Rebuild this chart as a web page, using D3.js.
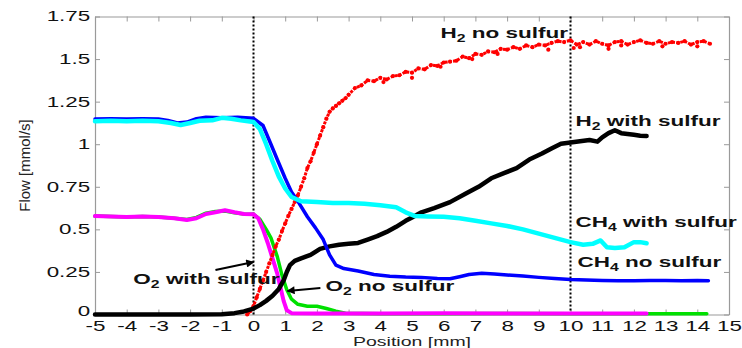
<!DOCTYPE html>
<html><head><meta charset="utf-8">
<script src="https://cdn.jsdelivr.net/npm/d3@7"></script>
<style>body{margin:0;background:#fff}svg{display:block}text{font-family:"Liberation Sans",Arial,sans-serif}</style>
</head><body><svg id="c" width="742" height="348"></svg>
<script>
// ---- tick labels ----
const xTickValues = [-5,-4,-3,-2,-1,0,1,2,3,4,5,6,7,8,9,10,11,12,13,14,15];
const yTickValues = [0,0.25,0.5,0.75,1,1.25,1.5,1.75];
const yTickLabels = ["0","0.25","0.5","0.75","1","1.25","1.5","1.75"];
const xLabel = "Position [mm]";
const yLabel = "Flow [mmol/s]";
const markerLines = [0, 10];

// ---- series (position mm, flow mmol/s) ----
const ch4NoSulfurX = [-5,-4.5,-4,-3.5,-3,-2.7,-2.4,-2.1,-1.8,-1.5,-1,-0.5,0,0.3,0.55,0.75,1.0,1.2,1.45,1.7,1.95,2.2,2.4,2.6,2.85,3.3,3.8,4.3,4.8,5.3,5.8,6.2,6.5,6.8,7.2,7.6,8.0,8.5,9.0,9.5,10,10.5,11,11.5,12,12.5,13,13.5,14,14.35];
const ch4NoSulfurY = [1.148,1.15,1.148,1.15,1.148,1.14,1.125,1.13,1.15,1.158,1.155,1.158,1.152,1.11,1.0,0.91,0.8,0.72,0.65,0.574,0.51,0.44,0.35,0.29,0.27,0.255,0.235,0.225,0.22,0.218,0.212,0.21,0.222,0.235,0.242,0.238,0.232,0.226,0.218,0.212,0.205,0.202,0.2,0.198,0.198,0.2,0.2,0.198,0.2,0.198];

const ch4SulfurX = [-5,-4.5,-4,-3.5,-3,-2.6,-2.3,-2.0,-1.7,-1.3,-1,-0.7,-0.4,0,0.2,0.4,0.6,0.8,1.0,1.2,1.5,2.0,2.5,3.0,3.5,4.0,4.5,4.8,5.1,5.5,6.0,6.5,7.0,7.5,8.0,8.5,9.0,9.5,10.0,10.4,10.7,10.95,11.15,11.4,11.7,12.0,12.2,12.4];
const ch4SulfurY = [1.135,1.138,1.135,1.138,1.135,1.125,1.113,1.125,1.138,1.14,1.155,1.15,1.14,1.13,1.09,1.0,0.9,0.81,0.74,0.69,0.665,0.66,0.655,0.655,0.65,0.642,0.63,0.6,0.578,0.576,0.574,0.565,0.55,0.535,0.52,0.5,0.475,0.45,0.425,0.41,0.415,0.435,0.395,0.39,0.395,0.425,0.425,0.418];

const h2NoSulfurX = [-0.2,-0.1,0,0.1,0.2,0.3,0.4,0.5,0.6,0.7,0.8,0.9,1.0,1.1,1.2,1.3,1.4,1.5,1.6,1.7,1.8,1.9,2.0,2.1,2.2,2.3,2.4,2.5,2.6,2.7,2.8,2.9,3.0,3.2,3.4,3.6,3.8,4.0,4.2,4.4,4.6,4.8,5.0,5.2,5.4,5.6,5.8,6.0,6.2,6.4,6.6,6.8,7.0,7.2,7.4,7.6,7.8,8.0,8.2,8.4,8.6,8.8,9.0,9.2,9.4,9.6,9.8,10.0,10.2,10.4,10.6,10.8,11.0,11.2,11.4,11.6,11.8,12.0,12.2,12.4,12.6,12.8,13.0,13.2,13.4,13.6,13.8,14.0,14.2,14.4];
const h2NoSulfurY = [0.0,0.02,0.05,0.1,0.15,0.2,0.25,0.3,0.35,0.4,0.44,0.49,0.535,0.58,0.62,0.66,0.7,0.75,0.8,0.86,0.9,0.95,1.0,1.05,1.1,1.15,1.19,1.21,1.225,1.24,1.255,1.27,1.29,1.33,1.345,1.375,1.37,1.39,1.38,1.4,1.405,1.425,1.42,1.445,1.44,1.465,1.46,1.48,1.485,1.49,1.515,1.505,1.53,1.525,1.545,1.54,1.56,1.555,1.57,1.56,1.58,1.57,1.585,1.58,1.595,1.605,1.6,1.61,1.585,1.6,1.585,1.605,1.59,1.58,1.6,1.605,1.585,1.6,1.61,1.595,1.59,1.605,1.59,1.6,1.595,1.605,1.585,1.6,1.605,1.59];
const h2NoSulfurStrayX = [4.1,5.0,5.9,6.9,7.7,9.3,10.1,10.3,11.2,11.6,12.9,14.0];
const h2NoSulfurStrayY = [1.365,1.39,1.455,1.5,1.53,1.555,1.565,1.57,1.56,1.58,1.575,1.575];

const h2SulfurX = [-5,-4,-3,-2,-1,-0.6,-0.3,0,0.2,0.4,0.6,0.8,0.95,1.05,1.15,1.3,1.5,1.8,2.1,2.4,2.7,3.0,3.3,3.6,3.9,4.2,4.5,4.8,5.0,5.3,5.7,6.2,6.7,7.1,7.5,7.9,8.3,8.7,9.1,9.4,9.7,10.0,10.3,10.6,10.85,11.0,11.2,11.4,11.6,11.8,12.0,12.2,12.4];
const h2SulfurY = [0,0,0,0,0.002,0.008,0.018,0.035,0.055,0.08,0.11,0.15,0.2,0.25,0.29,0.315,0.33,0.35,0.385,0.4,0.41,0.415,0.42,0.44,0.46,0.485,0.515,0.55,0.57,0.6,0.625,0.66,0.71,0.75,0.8,0.83,0.86,0.91,0.945,0.975,1.003,1.01,1.018,1.025,1.015,1.04,1.065,1.082,1.065,1.06,1.055,1.05,1.048];

const o2NoSulfurX = [-5,-4.5,-4,-3.5,-3,-2.5,-2.1,-1.8,-1.5,-1.2,-0.9,-0.6,-0.3,0,0.2,0.4,0.55,0.75,0.9,1.05,1.2,1.4,1.7,2.0,2.3,2.6,2.9,4,6,8,10,12,14.3];
const o2NoSulfurY = [0.578,0.575,0.572,0.575,0.572,0.565,0.558,0.57,0.595,0.605,0.608,0.598,0.59,0.588,0.56,0.5,0.45,0.34,0.23,0.145,0.09,0.06,0.048,0.048,0.035,0.02,0.008,0.005,0.005,0.006,0.005,0.005,0.005];

const o2SulfurX = [-5,-4.5,-4,-3.5,-3,-2.5,-2.1,-1.8,-1.5,-1.2,-0.9,-0.6,-0.3,0,0.15,0.3,0.45,0.6,0.75,0.85,0.95,1.05,1.2,2,4,6,8,10,12.4];
const o2SulfurY = [0.578,0.575,0.572,0.575,0.572,0.565,0.555,0.565,0.59,0.6,0.612,0.6,0.59,0.588,0.565,0.5,0.42,0.33,0.24,0.16,0.08,0.025,0.008,0.006,0.006,0.007,0.006,0.006,0.006];

// ---- annotations (data units) ----
const labelTexts = [["H","2"," no sulfur"],["H","2"," with sulfur"],["CH","4"," with sulfur"],["CH","4"," no sulfur"],["O","2"," with sulfur"],["O","2"," no sulfur"]];
const labelX = [5.9, 10.16, 10.16, 10.22, -3.79, 2.27];
const labelY = [1.624, 1.107, 0.514, 0.279, 0.179, 0.138];
const arrowFromX = [-1.2, 2.11];
const arrowFromY = [0.261, 0.156];
const arrowToX = [0.0, 1.07];
const arrowToY = [0.308, 0.138];

// ---- drawing ----
const W = 742, H = 348;
const m = {l:95, r:13, t:16.5, b:33.5};
const svg = d3.select("#c");
const x = d3.scaleLinear().domain([-5,15]).range([m.l, W-m.r]);
const y = d3.scaleLinear().domain([0,1.75]).range([H-m.b, m.t]);
const SX = 1.6;
const axisColor = "#9a9a9a";

function styleAxis(g){
  g.select(".domain").attr("stroke", axisColor).attr("stroke-width",1.2);
  g.selectAll(".tick line").attr("stroke", axisColor).attr("stroke-width",1);
}
const gx = svg.append("g").attr("transform",`translate(0,${H-m.b})`)
  .call(d3.axisBottom(x).tickValues(xTickValues).tickFormat(d3.format("d")).tickSizeInner(-5).tickSizeOuter(0).tickPadding(7));
styleAxis(gx);
gx.selectAll(".tick text").attr("font-size",14).attr("fill","#111").attr("font-family",null)
  .attr("transform",`scale(${SX},1)`).text(d => d < 0 ? "-" + Math.abs(d) : d);

const gy = svg.append("g").attr("transform",`translate(${m.l},0)`)
  .call(d3.axisLeft(y).tickValues(yTickValues).tickFormat((d,i)=>yTickLabels[i]).tickSizeInner(-5).tickSizeOuter(0).tickPadding(3));
styleAxis(gy);
gy.selectAll(".tick text").attr("font-size",14).attr("fill","#111").attr("font-family",null)
  .attr("transform",`scale(${SX},1)`).attr("dy", d => d === 0 ? "0.05em" : "0.32em");

const gt = svg.append("g").attr("transform",`translate(0,${m.t})`)
  .call(d3.axisTop(x).tickValues(xTickValues).tickFormat("").tickSizeInner(-5).tickSizeOuter(0));
styleAxis(gt);
const gr = svg.append("g").attr("transform",`translate(${W-m.r},0)`)
  .call(d3.axisRight(y).tickValues(yTickValues).tickFormat("").tickSizeInner(-5).tickSizeOuter(0));
styleAxis(gr);

// axis labels
svg.append("text").attr("transform",`translate(${(m.l+W-m.r)/2},${H-2}) scale(1.5,1)`)
  .attr("text-anchor","middle").attr("font-size",13).attr("fill","#222").text(xLabel);
svg.append("text").attr("transform",`translate(30,${(m.t+H-m.b)/2}) rotate(-90)`)
  .attr("text-anchor","middle").attr("font-size",15).attr("fill","#222").text(yLabel);

// marker lines
svg.selectAll("line.mk").data(markerLines).join("line").attr("class","mk")
  .attr("x1",d=>x(d)).attr("x2",d=>x(d)).attr("y1",y(1.75)).attr("y2",y(0))
  .attr("stroke","#000").attr("stroke-width",2).attr("stroke-dasharray","2,2");

const line = d3.line().x(d=>x(d[0])).y(d=>y(d[1]));
const zip = (a,b) => a.map((v,i)=>[v,b[i]]);
function drawLine(xs, ys, color, w){
  svg.append("path").datum(zip(xs,ys)).attr("d",line).attr("fill","none")
    .attr("stroke",color).attr("stroke-width",w).attr("stroke-linejoin","round").attr("stroke-linecap","round");
}
drawLine(o2NoSulfurX, o2NoSulfurY, "#00e000", 3.5);
drawLine(o2SulfurX, o2SulfurY, "#ff00ff", 4);
// red markers
const redPts = zip(h2NoSulfurX, h2NoSulfurY);
svg.append("path").datum(redPts).attr("d",line).attr("fill","none").attr("stroke","#ff0000")
  .attr("stroke-width",3).attr("stroke-dasharray","3,1.2");
svg.append("g").selectAll("circle").data(redPts.concat(zip(h2NoSulfurStrayX,h2NoSulfurStrayY))).join("circle")
  .attr("cx",d=>x(d[0])).attr("cy",d=>y(d[1])).attr("r",2.1).attr("fill","#ff0000");
drawLine(h2SulfurX, h2SulfurY, "#000000", 4.5);
drawLine(ch4NoSulfurX, ch4NoSulfurY, "#0000ff", 3.5);
drawLine(ch4SulfurX, ch4SulfurY, "#00ffff", 4.5);

// annotations
labelTexts.forEach((parts,i)=>{
  const t = svg.append("text").attr("transform",`translate(${x(labelX[i])},${y(labelY[i])}) scale(1.5,1)`)
    .attr("font-size",15).attr("font-weight","bold").attr("fill","#111");
  t.append("tspan").text(parts[0]);
  t.append("tspan").attr("font-size",10.5).attr("dy",4).text(parts[1]);
  t.append("tspan").attr("dy",-4).text(parts[2]);
});
svg.append("defs").append("marker").attr("id","ah").attr("viewBox","0 0 10 10").attr("refX",9).attr("refY",5)
  .attr("markerWidth",5).attr("markerHeight",4).attr("orient","auto-start-reverse").attr("markerUnits","strokeWidth")
  .append("path").attr("d","M0,0 L10,5 L0,10 z").attr("fill","#000");
arrowFromX.forEach((v,i)=>{
  svg.append("line").attr("x1",x(v)).attr("y1",y(arrowFromY[i])).attr("x2",x(arrowToX[i])).attr("y2",y(arrowToY[i]))
    .attr("stroke","#000").attr("stroke-width",2).attr("marker-end","url(#ah)");
});
</script></body></html>
